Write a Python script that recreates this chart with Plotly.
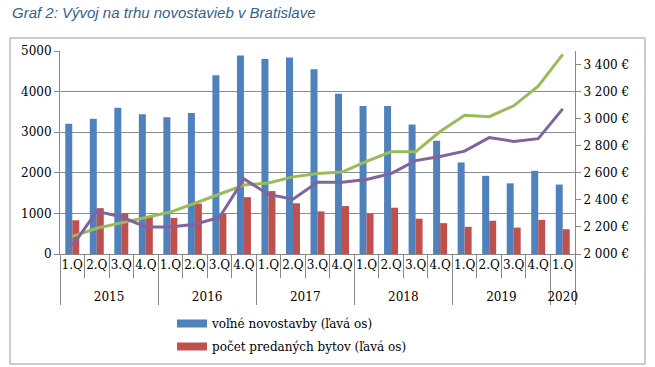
import plotly.graph_objects as go

years = ["2015", "2015", "2015", "2015", "2016", "2016", "2016", "2016",
         "2017", "2017", "2017", "2017", "2018", "2018", "2018", "2018",
         "2019", "2019", "2019", "2019", "2020"]
quarters = ["1.Q", "2.Q", "3.Q", "4.Q", "1.Q", "2.Q", "3.Q", "4.Q",
            "1.Q", "2.Q", "3.Q", "4.Q", "1.Q", "2.Q", "3.Q", "4.Q",
            "1.Q", "2.Q", "3.Q", "4.Q", "1.Q"]

volne = [3210, 3330, 3600, 3440, 3370, 3470, 4400, 4890, 4800, 4840, 4550,
         3950, 3645, 3645, 3190, 2790, 2255, 1925, 1740, 2050, 1710]
predane = [830, 1130, 1000, 930, 890, 1240, 1000, 1400, 1550, 1250, 1050,
           1180, 1000, 1140, 870, 760, 670, 820, 650, 840, 610]
cena_green = [2130, 2190, 2230, 2270, 2310, 2375, 2440, 2510, 2525, 2570, 2595,
              2605, 2685, 2755, 2755, 2905, 3025, 3015, 3095, 3240, 3475]
cena_purple = [2060, 2315, 2275, 2200, 2200, 2220, 2270, 2555, 2440, 2405, 2530,
               2530, 2550, 2595, 2690, 2720, 2760, 2860, 2832, 2852, 3072]

left_ticks = [0, 1000, 2000, 3000, 4000, 5000]
right_ticks = [2000, 2200, 2400, 2600, 2800, 3000, 3200, 3400]
right_labels = ["2 000 €", "2 200 €", "2 400 €", "2 600 €", "2 800 €",
                "3 000 €", "3 200 €", "3 400 €"]

names = ["voľné novostavby (ľavá os)", "počet predaných bytov (ľavá os)"]
colors = ["#4F81BD", "#C0504D"]

# second line in the quarter labels pushes the year row further down
x = [years, [q + "<br> " for q in quarters]]
serif = "DejaVu Serif"

fig = go.Figure()
fig.add_trace(go.Bar(x=x, y=volne, name=names[0], showlegend=False,
                     marker=dict(color=colors[0], line=dict(width=0))))
fig.add_trace(go.Bar(x=x, y=predane, name=names[1], showlegend=False,
                     marker=dict(color=colors[1], line=dict(width=0))))
fig.add_trace(go.Scatter(x=x, y=cena_green, yaxis="y2", mode="lines",
                         line=dict(color="#9BBB59", width=3), showlegend=False))
fig.add_trace(go.Scatter(x=x, y=cena_purple, yaxis="y2", mode="lines",
                         line=dict(color="#8064A2", width=3), showlegend=False))
# legend entries with wide flat swatches like the original
for i, (n, c) in enumerate(zip(names, colors)):
    fig.add_trace(go.Scatter(x=[[x[0][0]], [x[1][0]]], y=[None], mode="lines",
                             name=n, legendgroup=f"g{i}",
                             line=dict(color=c, width=8), hoverinfo="skip"))

fig.update_layout(
    width=655, height=367,
    margin=dict(l=60, r=80, t=51, b=113, autoexpand=False),
    paper_bgcolor="white", plot_bgcolor="white",
    barmode="group", bargap=0.43, bargroupgap=0,
    title=dict(text="<i>Graf 2: Vývoj na trhu novostavieb v Bratislave</i>",
               xref="container", yref="container", x=12/655, y=1-13/367,
               xanchor="left", yanchor="middle",
               font=dict(family="Arial, Liberation Sans", size=15, color="#365F91")),
    xaxis=dict(type="multicategory", showline=True, linecolor="#888888",
               automargin=False,
               ticks="outside", ticklen=23, tickcolor="#888888", tickangle=0,
               showdividers=True, dividercolor="#888888", dividerwidth=1,
               tickfont=dict(family=serif, size=12, color="black")),
    yaxis=dict(range=[0, 5000], tickvals=left_ticks, showgrid=True, automargin=False,
               gridcolor="#8c8c8c", showline=True, linecolor="#888888",
               ticks="outside", ticklen=5, tickcolor="#888888",
               tickfont=dict(family=serif, size=12, color="black"), zeroline=False),
    yaxis2=dict(range=[2000, 3500], overlaying="y", side="right", automargin=False,
                tickvals=right_ticks, ticktext=right_labels, showgrid=False,
                showline=True, linecolor="#888888", ticks="outside", ticklen=5,
                tickcolor="#888888", zeroline=False,
                tickfont=dict(family=serif, size=12, color="black")),
    legend=dict(x=(172-60)/515, y=(254-309)/203, xanchor="left", yanchor="top",
                orientation="v", font=dict(family=serif, size=12, color="black"),
                bgcolor="rgba(0,0,0,0)", itemwidth=30, tracegroupgap=4),
    shapes=[dict(type="rect", xref="paper", yref="paper",
                 x0=(10-60)/515, x1=(645-60)/515,
                 y0=(254-364)/203, y1=(254-38)/203,
                 line=dict(color="#999999", width=1))],
)

fig.write_html("out.html", config={"displayModeBar": False},
               post_script="document.body.style.margin='0';")
